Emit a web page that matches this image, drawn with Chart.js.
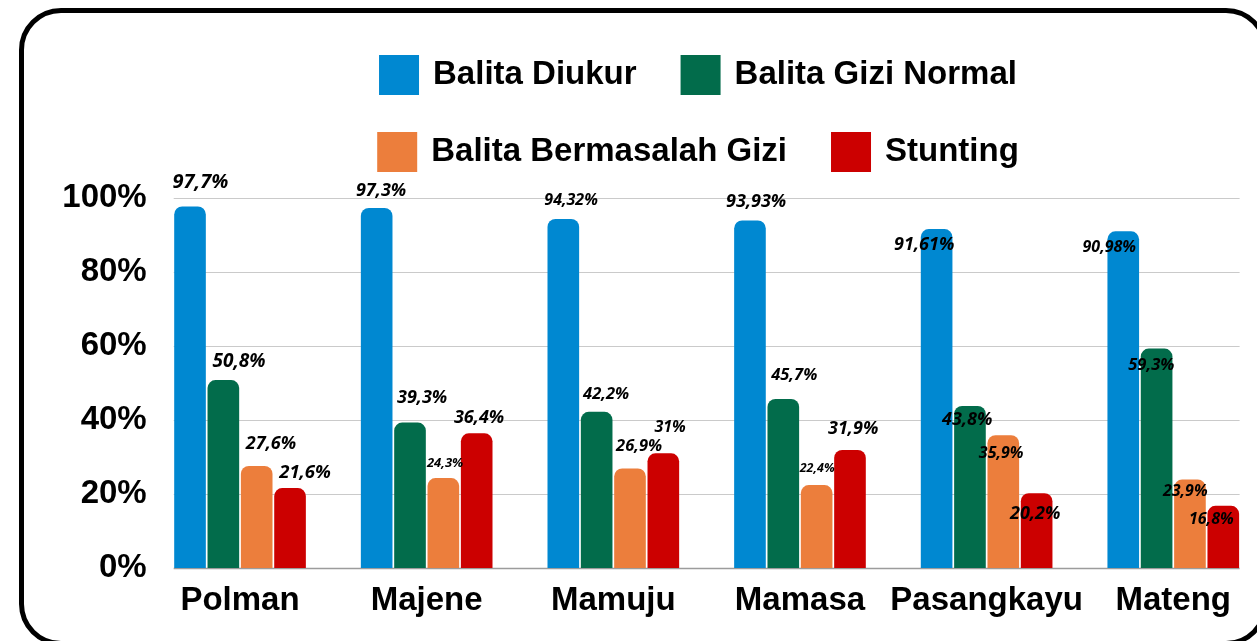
<!DOCTYPE html>
<html>
<head>
<meta charset="utf-8">
<script src="https://cdn.jsdelivr.net/npm/chart.js@4.4.1/dist/chart.umd.min.js"></script>
<style>
  html, body { margin: 0; padding: 0; background: #ffffff; overflow: hidden; width: 1257px; height: 641px; }
  #frame { position: absolute; left: 19px; top: 8px; width: 1249px; height: 638px; box-sizing: border-box;
           border: 5px solid #000; border-radius: 42px; }
  #wrap { position: absolute; left: 0; top: 0; width: 1280px; height: 641px; }
</style>
</head>
<body>
<div id="frame"></div>
<div id="wrap"><canvas id="c"></canvas></div>
<script>
// ---------- DATA ----------
const categories = ['Polman', 'Majene', 'Mamuju', 'Mamasa', 'Pasangkayu', 'Mateng'];
const seriesNames = ['Balita Diukur', 'Balita Gizi Normal', 'Balita Bermasalah Gizi', 'Stunting'];
const balitaDiukur = [97.7, 97.3, 94.32, 93.93, 91.61, 90.98];
const balitaGiziNormal = [50.8, 39.3, 42.2, 45.7, 43.8, 59.3];
const balitaBermasalahGizi = [27.6, 24.3, 26.9, 22.4, 35.9, 23.9];
const stunting = [21.6, 36.4, 31, 31.9, 20.2, 16.8];
const yTicks = [0, 20, 40, 60, 80, 100];

// ---------- STYLE ----------
const seriesColors = ['#0088D1', '#026C4B', '#EC7E3C', '#CC0000'];
// label placement relative to each bar's top (per series, per category)
const labelStyle = [
  { size: [20, 18, 16, 18, 18, 16],     dx: [10.5, 4.4, 7.8, 6.2, -12.4, -14],  dy: [-24, -17, -18.5, -18.5, 15.5, 16.1] },
  { size: [19, 18, 16.5, 16.5, 18, 16.5], dx: [15.7, 12.1, 9.5, 10.9, -2.7, -5.3], dy: [-18.5, -24.6, -17.9, -23.4, 14.1, 16.4] },
  { size: [18, 13, 16.5, 12.5, 16, 16], dx: [14.3, 1.7, 9.1, 0.5, -2.1, -4.7],   dy: [-22.4, -15.1, -22.5, -17.1, 17.8, 11.9] },
  { size: [18.5, 18, 16, 18, 18, 16],   dx: [15, 2.4, 6.8, 3.2, -1.4, -12],     dy: [-15.6, -15.3, -25.8, -21.5, 20.7, 13.2] }
];
const AXIS_FONT = "'Liberation Sans', Arial, sans-serif";
const LEGEND_FONT = "'Liberation Sans', Arial, sans-serif";
const LABEL_FONT = "'Open Sans', 'Noto Sans', sans-serif";
const LEGEND_TEXT_SHIFT = 2.5;  // tighter box-to-text gap
const LEGEND_EXTRA_GAP = 4.5;   // wider gap between legend items
const LEGEND_WRAP = 900;
const LEGEND_CENTER = 701.5;
const LEGEND_HEIGHT = 180;

const seriesValues = [balitaDiukur, balitaGiziNormal, balitaBermasalahGizi, stunting];

function fmt(v) { return String(v).replace('.', ',') + '%'; }

function withLegendText(ctx, fn) {
  const mt = CanvasRenderingContext2D.prototype.measureText;
  const ft = CanvasRenderingContext2D.prototype.fillText;
  ctx.measureText = function (t) {
    const m = mt.call(this, t);
    return { width: m.width + LEGEND_EXTRA_GAP,
             actualBoundingBoxAscent: m.actualBoundingBoxAscent,
             actualBoundingBoxDescent: m.actualBoundingBoxDescent };
  };
  ctx.fillText = function (t, x, y, maxW) {
    ft.call(this, t, x - LEGEND_TEXT_SHIFT, y);
  };
  try { fn(); } finally { delete ctx.measureText; delete ctx.fillText; }
}

// legend: wrapped into two centred rows
const legendWrap = {
  id: 'legendWrap',
  beforeLayout(chart) {
    const lg = chart.legend;
    if (lg && !lg._wrapped) {
      const origFit = lg.fit;
      const origDraw = lg.draw;
      lg.fit = function () {
        const mw = this.maxWidth;
        this.maxWidth = LEGEND_WRAP;
        withLegendText(this.ctx, () => origFit.call(this));
        this.maxWidth = mw;
        this.height = LEGEND_HEIGHT;
      };
      lg.draw = function () {
        withLegendText(this.ctx, () => origDraw.call(this));
      };
      lg._wrapped = true;
    }
  },
  afterLayout(chart) {
    const lg = chart.legend;
    if (lg) {
      lg.left = LEGEND_CENTER - LEGEND_WRAP / 2;
      lg.right = LEGEND_CENTER + LEGEND_WRAP / 2;
      lg.width = LEGEND_WRAP;
    }
  }
};

// gridlines spanning the bar groups only
const gridPlugin = {
  id: 'gridPlugin',
  beforeDatasetsDraw(chart) {
    const y = chart.scales.y;
    const first = chart.getDatasetMeta(0).data[0];
    const lastMeta = chart.getDatasetMeta(chart.data.datasets.length - 1);
    const last = lastMeta.data[lastMeta.data.length - 1];
    const x0 = first.x - first.width / 2 - 0.5;
    const x1 = last.x + last.width / 2 + 0.5;
    const ctx = chart.ctx;
    ctx.save();
    yTicks.forEach(v => {
      const py = Math.round(y.getPixelForValue(v)) + 0.5;
      ctx.beginPath();
      ctx.strokeStyle = v === 0 ? '#9c9c9c' : '#cacaca';
      ctx.lineWidth = v === 0 ? 1.5 : 1.2;
      ctx.moveTo(x0, py);
      ctx.lineTo(x1, py);
      ctx.stroke();
    });
    ctx.restore();
  }
};

// value labels
const labelPlugin = {
  id: 'labelPlugin',
  afterDatasetsDraw(chart) {
    const ctx = chart.ctx;
    ctx.save();
    ctx.fillStyle = '#000';
    ctx.textAlign = 'center';
    ctx.textBaseline = 'middle';
    chart.data.datasets.forEach((ds, di) => {
      const meta = chart.getDatasetMeta(di);
      const st = labelStyle[di];
      meta.data.forEach((bar, j) => {
        ctx.font = 'italic bold ' + st.size[j] + 'px ' + LABEL_FONT;
        ctx.fillText(fmt(ds.data[j]), bar.x + st.dx[j], bar.y + st.dy[j]);
      });
    });
    ctx.restore();
  }
};

const ctx = document.getElementById('c').getContext('2d');
new Chart(ctx, {
  type: 'bar',
  data: {
    labels: categories,
    datasets: seriesNames.map((name, i) => ({
      label: name,
      data: seriesValues[i],
      backgroundColor: seriesColors[i],
      borderWidth: 0,
      borderRadius: 8,
      borderSkipped: 'start',
      categoryPercentage: 0.7145,
      barPercentage: 0.949
    }))
  },
  options: {
    responsive: true,
    maintainAspectRatio: false,
    animation: false,
    layout: { padding: { top: 18, left: 0, right: 13.4, bottom: 0 } },
    plugins: {
      legend: {
        position: 'top',
        labels: {
          boxWidth: 40, boxHeight: 40, padding: 37, color: '#000',
          font: { family: LEGEND_FONT, size: 33, weight: 'bold' }
        }
      },
      tooltip: { enabled: false }
    },
    scales: {
      x: {
        grid: { display: false, drawTicks: false },
        border: { display: false },
        ticks: { color: '#000', padding: 13, maxRotation: 0, autoSkip: false,
                 font: { family: AXIS_FONT, size: 33, weight: 'bold' } },
        afterFit(s) { s.height = 73; }
      },
      y: {
        min: 0, max: 100,
        grid: { display: false, drawTicks: false },
        border: { display: false },
        afterBuildTicks(s) { s.ticks = yTicks.map(v => ({ value: v })); },
        ticks: { color: '#000', padding: 0, callback: v => v + '%',
                 font: { family: AXIS_FONT, size: 33, weight: 'bold' } },
        afterFit(s) { s.width = 146.7; }
      }
    }
  },
  plugins: [legendWrap, gridPlugin, labelPlugin]
});
</script>
</body>
</html>
